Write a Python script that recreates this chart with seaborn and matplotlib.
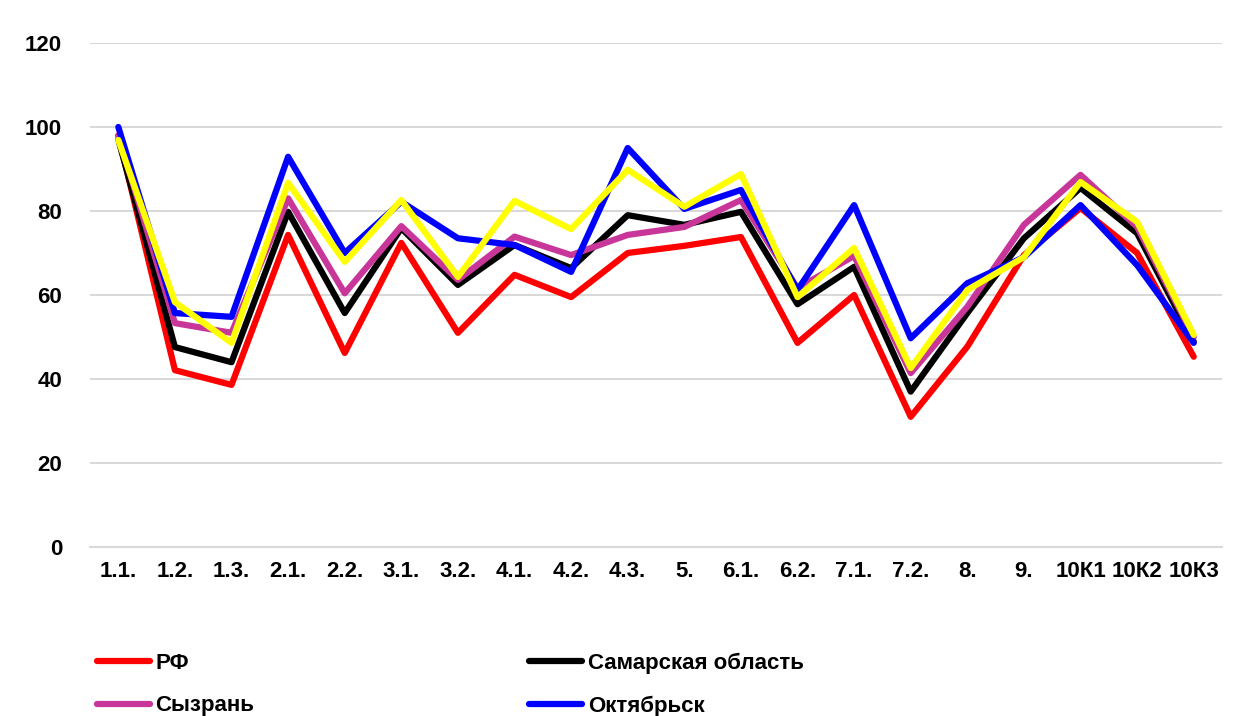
import pandas as pd
import numpy as np
import matplotlib
matplotlib.use("Agg")
import matplotlib.pyplot as plt
from matplotlib.ticker import MultipleLocator, FixedLocator
import seaborn as sns

# --- Datos ---
CATEGORIAS = ["1.1.", "1.2.", "1.3.", "2.1.", "2.2.", "3.1.", "3.2.", "4.1.", "4.2.", "4.3.",
              "5.", "6.1.", "6.2.", "7.1.", "7.2.", "8.", "9.", "10К1", "10К2", "10К3"]

RF = [98, 42.1, 38.6, 74.3, 46.2, 72.4, 51, 64.8, 59.5, 70,
      71.7, 73.8, 48.6, 60, 31, 47.7, 69.5, 80.7, 70, 45.3]
SAMARA = [97, 47.6, 44, 79.8, 55.7, 75.9, 62.4, 71.9, 66.4, 79,
          76.7, 79.8, 57.8, 66.7, 37, 55.7, 73.5, 85.5, 74.7, 48.9]
SYZRAN = [98, 53.3, 51, 83, 60.4, 76.4, 63.6, 73.9, 69.5, 74.3,
          76.2, 82.6, 61.6, 69.3, 41.4, 57.2, 76.7, 88.6, 76.2, 50]
OKTYABRSK = [100, 55.7, 54.8, 92.9, 70, 82.2, 73.5, 71.9, 65.5, 95,
             80.5, 85, 61.2, 81.4, 49.7, 62.8, 69, 81.4, 67.1, 48.6]
SERIE5 = [96.9, 58.3, 48.6, 86.7, 67.9, 82.6, 64.3, 82.4, 75.7, 89.8,
          81, 88.8, 59.5, 71.2, 42.6, 61.2, 69, 86.9, 77.4, 50.5]

SERIES = {"РФ": RF, "Самарская область": SAMARA, "Сызрань": SYZRAN,
          "Октябрьск": OKTYABRSK, "Ряд 5": SERIE5}
COLORES = {"РФ": "#ff0000", "Самарская область": "#000000", "Сызрань": "#c9369a",
           "Октябрьск": "#0000ff", "Ряд 5": "#ffff00"}

# --- Configuración ---
sns.set_style("white")
plt.rcParams["font.family"] = ["Liberation Sans", "DejaVu Sans"]
plt.rcParams["font.weight"] = "bold"
plt.rcParams["text.color"] = "black"
plt.rcParams["xtick.color"] = "black"
plt.rcParams["ytick.color"] = "black"

df = pd.concat(
    [pd.DataFrame({"cat": CATEGORIAS, "valor": v, "serie": k}) for k, v in SERIES.items()],
    ignore_index=True,
)

fig = plt.figure(figsize=(12.4, 7.16), dpi=100)
ax = fig.add_axes([0.0726, 0.236, 0.9129, 0.704])

sns.lineplot(data=df, x="cat", y="valor", hue="serie", palette=COLORES,
             sort=False, linewidth=4.5, ax=ax, legend=False)

ax.set_ylim(0, 120)
ax.set_xlim(-0.5, len(CATEGORIAS) - 0.5)
ax.yaxis.set_major_locator(MultipleLocator(20))
ax.grid(axis="y", color="#d9d9d9", linewidth=1.5)
ax.set_axisbelow(True)
ax.set_xlabel("")
ax.set_ylabel("")

for s in ["top", "right", "left"]:
    ax.spines[s].set_visible(False)
ax.spines["bottom"].set_color("#d9d9d9")
ax.spines["bottom"].set_linewidth(1.5)

ax.set_xticks(range(len(CATEGORIAS)))
ax.set_xticklabels(CATEGORIAS)
ax.xaxis.set_minor_locator(FixedLocator(np.arange(-0.5, len(CATEGORIAS), 1)))
ax.tick_params(axis="x", which="major", length=0, pad=10, labelsize=16)
ax.tick_params(axis="x", which="minor", length=12, width=1.5, direction="inout",
               color="#d9d9d9")
ax.tick_params(axis="y", length=0, pad=20, labelsize=16)

handles = [plt.Line2D([], [], color=COLORES[k], linewidth=4.5, solid_capstyle="round")
           for k in ["РФ", "Сызрань", "Самарская область", "Октябрьск"]]
labels = ["РФ", "Сызрань", "Самарская область", "Октябрьск"]
fig.legend(handles, labels, ncol=2, loc="upper left", bbox_to_anchor=(0.078, 0.088),
           frameon=False, fontsize=16, handlelength=2.4, handletextpad=0.25,
           columnspacing=12.35, labelspacing=0.95, borderaxespad=0, borderpad=0)

fig.savefig("out.png", dpi=100)
